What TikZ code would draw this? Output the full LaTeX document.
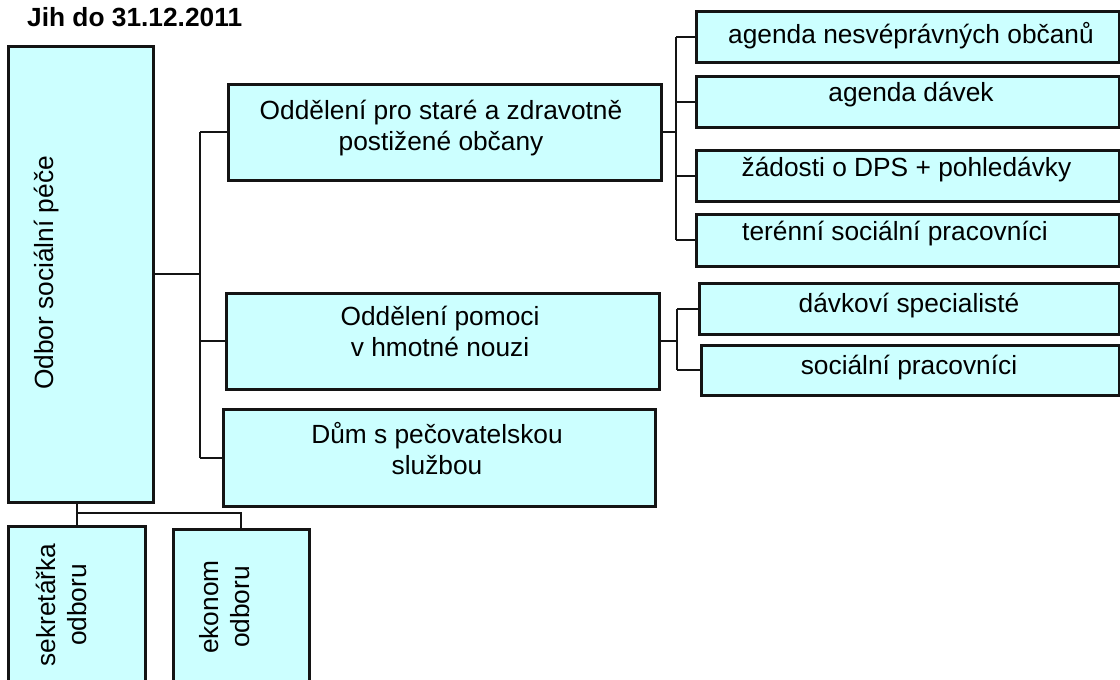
\documentclass[tikz,border=0pt]{standalone}
\usepackage{fontspec}
\setmainfont{Liberation Sans}
\usetikzlibrary{positioning,calc}
\definecolor{OSPFill}{HTML}{CCFFFF}
\definecolor{OSPLine}{HTML}{141414}
\tikzset{
  unit/.style={draw=OSPLine,fill=OSPFill,line width=2.6pt,inner sep=0pt,anchor=north west},
  utext/.style={font=\fontsize{26.3}{30.6}\selectfont,align=center,inner sep=0pt,anchor=base},
  link/.style={draw=OSPLine,line width=2.2pt}
}
\begin{document}
\begin{tikzpicture}[x=1pt,y=-1pt]
  \useasboundingbox (0,0) rectangle (1120,680);
  \clip (0,0) rectangle (1120,680);
  \node[font=\fontsize{26.3}{30}\selectfont\bfseries,anchor=base west,inner sep=0pt]
    (title) at (27,26) {Jih do 31.12.2011};
  % head of department
  \node[unit,minimum width=145pt,minimum height=456pt] (odbor) at (7,45) {};
  \node[utext,rotate=90] (odbort) at (53,273) {Odbor sociální péče};
  % departments
  \node[unit,minimum width=433pt,minimum height=96pt] (o1) at (227,83) {};
  \node[unit,minimum width=433pt,minimum height=96pt] (o2) at (225,292) {};
  \node[unit,minimum width=432pt,minimum height=97pt] (o3) at (222,408) {};
  \node[utext] (o1t) at (441,150) {Oddělení pro staré a zdravotně\\postižené občany};
  \node[utext] (o2t) at (440,356) {Oddělení pomoci\\v hmotné nouzi};
  \node[utext] (o3t) at (437,474.3) {Dům s pečovatelskou\\službou};
  % agendas
  \node[unit,minimum width=423pt,minimum height=51pt] (a1) at (695,10) {};
  \node[unit,minimum width=423pt,minimum height=51pt] (a2) at (695,75) {};
  \node[unit,minimum width=423pt,minimum height=51pt] (a3) at (695,149) {};
  \node[unit,minimum width=423pt,minimum height=52pt] (a4) at (695,213) {};
  \node[unit,minimum width=420pt,minimum height=51pt] (b1) at (698,282) {};
  \node[unit,minimum width=418pt,minimum height=50pt] (b2) at (700,344) {};
  \node[utext] (a1t) at (911,43.5) {agenda nesvéprávných občanů};
  \node[utext] (a2t) at (911,101.7) {agenda dávek};
  \node[utext] (a3t) at (906.5,176.7) {žádosti o DPS + pohledávky};
  \node[utext] (a4t) at (895,240) {terénní sociální pracovníci};
  \node[utext] (b1t) at (909,312.7) {dávkoví specialisté};
  \node[utext] (b2t) at (909,374) {sociální pracovníci};
  % staff
  \node[unit,minimum width=137pt,minimum height=170pt] (sekr) at (7,525) {};
  \node[unit,minimum width=136pt,minimum height=170pt] (ekon) at (172,528) {};
  \node[utext,rotate=90] (sekrt) at (86,605) {sekretářka\\odboru};
  \node[utext,rotate=90] (ekont) at (249,607) {ekonom\\odboru};
  % connectors
  \coordinate (bus) at (200,0);
  \coordinate (busA) at (676,0);
  \coordinate (busB) at (677,0);
  \coordinate (split) at (0,513);
  \draw[link] (odbor.east) -- (odbor.east -| bus);
  \draw[link] (bus |- o1.west) -- (bus |- o3.west);
  \foreach \n in {o1,o2,o3} \draw[link] (bus |- \n.west) -- (\n.west);
  \draw[link] (o1.east) -- (o1.east -| busA);
  \draw[link] (busA |- a1.west) -- (busA |- a4.west);
  \foreach \n in {a1,a2,a3,a4} \draw[link] (busA |- \n.west) -- (\n.west);
  \draw[link] (o2.east) -- (o2.east -| busB);
  \draw[link] (busB |- b1.west) -- (busB |- b2.west);
  \foreach \n in {b1,b2} \draw[link] (busB |- \n.west) -- (\n.west);
  \draw[link] (odbor.south -| sekr.north) -- (sekr.north);
  \draw[link] (sekr.north |- split) -| (ekon.north);
\end{tikzpicture}
\end{document}
